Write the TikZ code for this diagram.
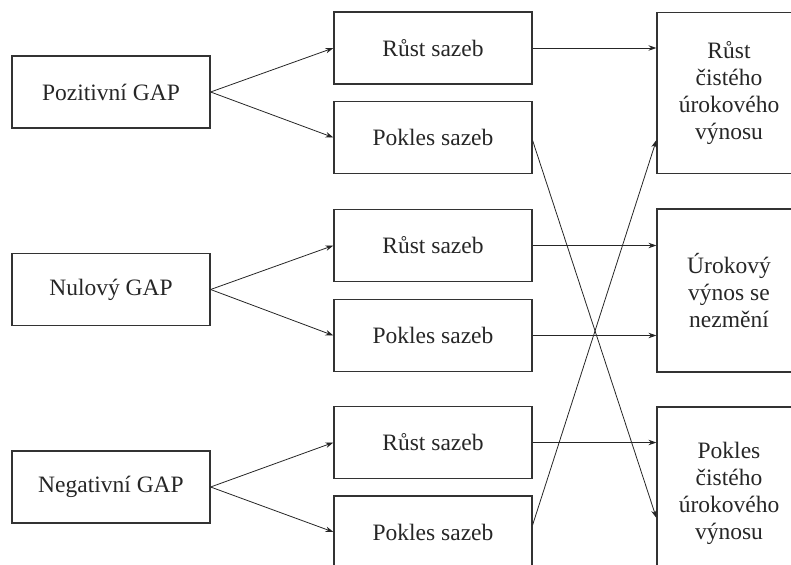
\documentclass[tikz,border=0pt]{standalone}
\usepackage{fontspec}
\setmainfont{Liberation Serif}
\usetikzlibrary{arrows.meta,calc}
\begin{document}
\begin{tikzpicture}[x=1pt,y=-1pt,
  box/.style={draw=black!80, line width=1.2pt, minimum width=198pt, minimum height=72pt,
    inner sep=0pt, font=\fontsize{23.5}{27}\selectfont, text=black!85, align=center},
  rbox/.style={box, minimum width=144pt},
  arr/.style={-{Stealth[length=8pt,width=5.5pt]}, line width=0.8pt, draw=black!85}]
\useasboundingbox (0,0) rectangle (791,564);
\clip (0,0) rectangle (791,564);
% left
\node[box] (L1) at (111,92) {Pozitivní GAP};
\node[box] (L2) at (111,289.5) {Nulový GAP};
\node[box] (L3) at (111,487) {Negativní GAP};
% middle
\node[box] (R1m) at (433,48) {Růst sazeb};
\node[box] (P1m) at (433,137.5) {Pokles sazeb};
\node[box] (R2m) at (433,245.5) {Růst sazeb};
\node[box] (P2m) at (433,335.5) {Pokles sazeb};
\node[box] (R3m) at (433,442.5) {Růst sazeb};
\node[box] (P3m) at (433,532) {Pokles sazeb};
% right
\node[rbox, minimum height=161pt] (O1) at (729,93) {Růst\\čistého\\úrokového\\výnosu};
\node[rbox, minimum height=163pt] (O2) at (729,290.5) {Úrokový\\výnos se\\nezmění};
\node[rbox, minimum height=173pt] (O3) at (729,493.5) {Pokles\\čistého\\úrokového\\výnosu};
% arrows left -> middle
\draw[arr] (L1.east) -- (R1m.west);
\draw[arr] (L1.east) -- (P1m.west);
\draw[arr] (L2.east) -- (R2m.west);
\draw[arr] (L2.east) -- (P2m.west);
\draw[arr] (L3.east) -- (R3m.west);
\draw[arr] (L3.east) -- (P3m.west);
% arrows middle -> right
\draw[arr] (R1m.east) -- (R1m.east -| O1.west);
\draw[arr] (R2m.east) -- (R2m.east -| O2.west);
\draw[arr] (P2m.east) -- (P2m.east -| O2.west);
\draw[arr] (R3m.east) -- (R3m.east -| O3.west);
\draw[arr] ($(P1m.east)+(0,3)$) -- ($(O3.west)+(0,24.5)$);
\draw[arr] ($(P3m.east)+(0,-7)$) -- ($(O1.west)+(0,47)$);
\end{tikzpicture}
\end{document}
